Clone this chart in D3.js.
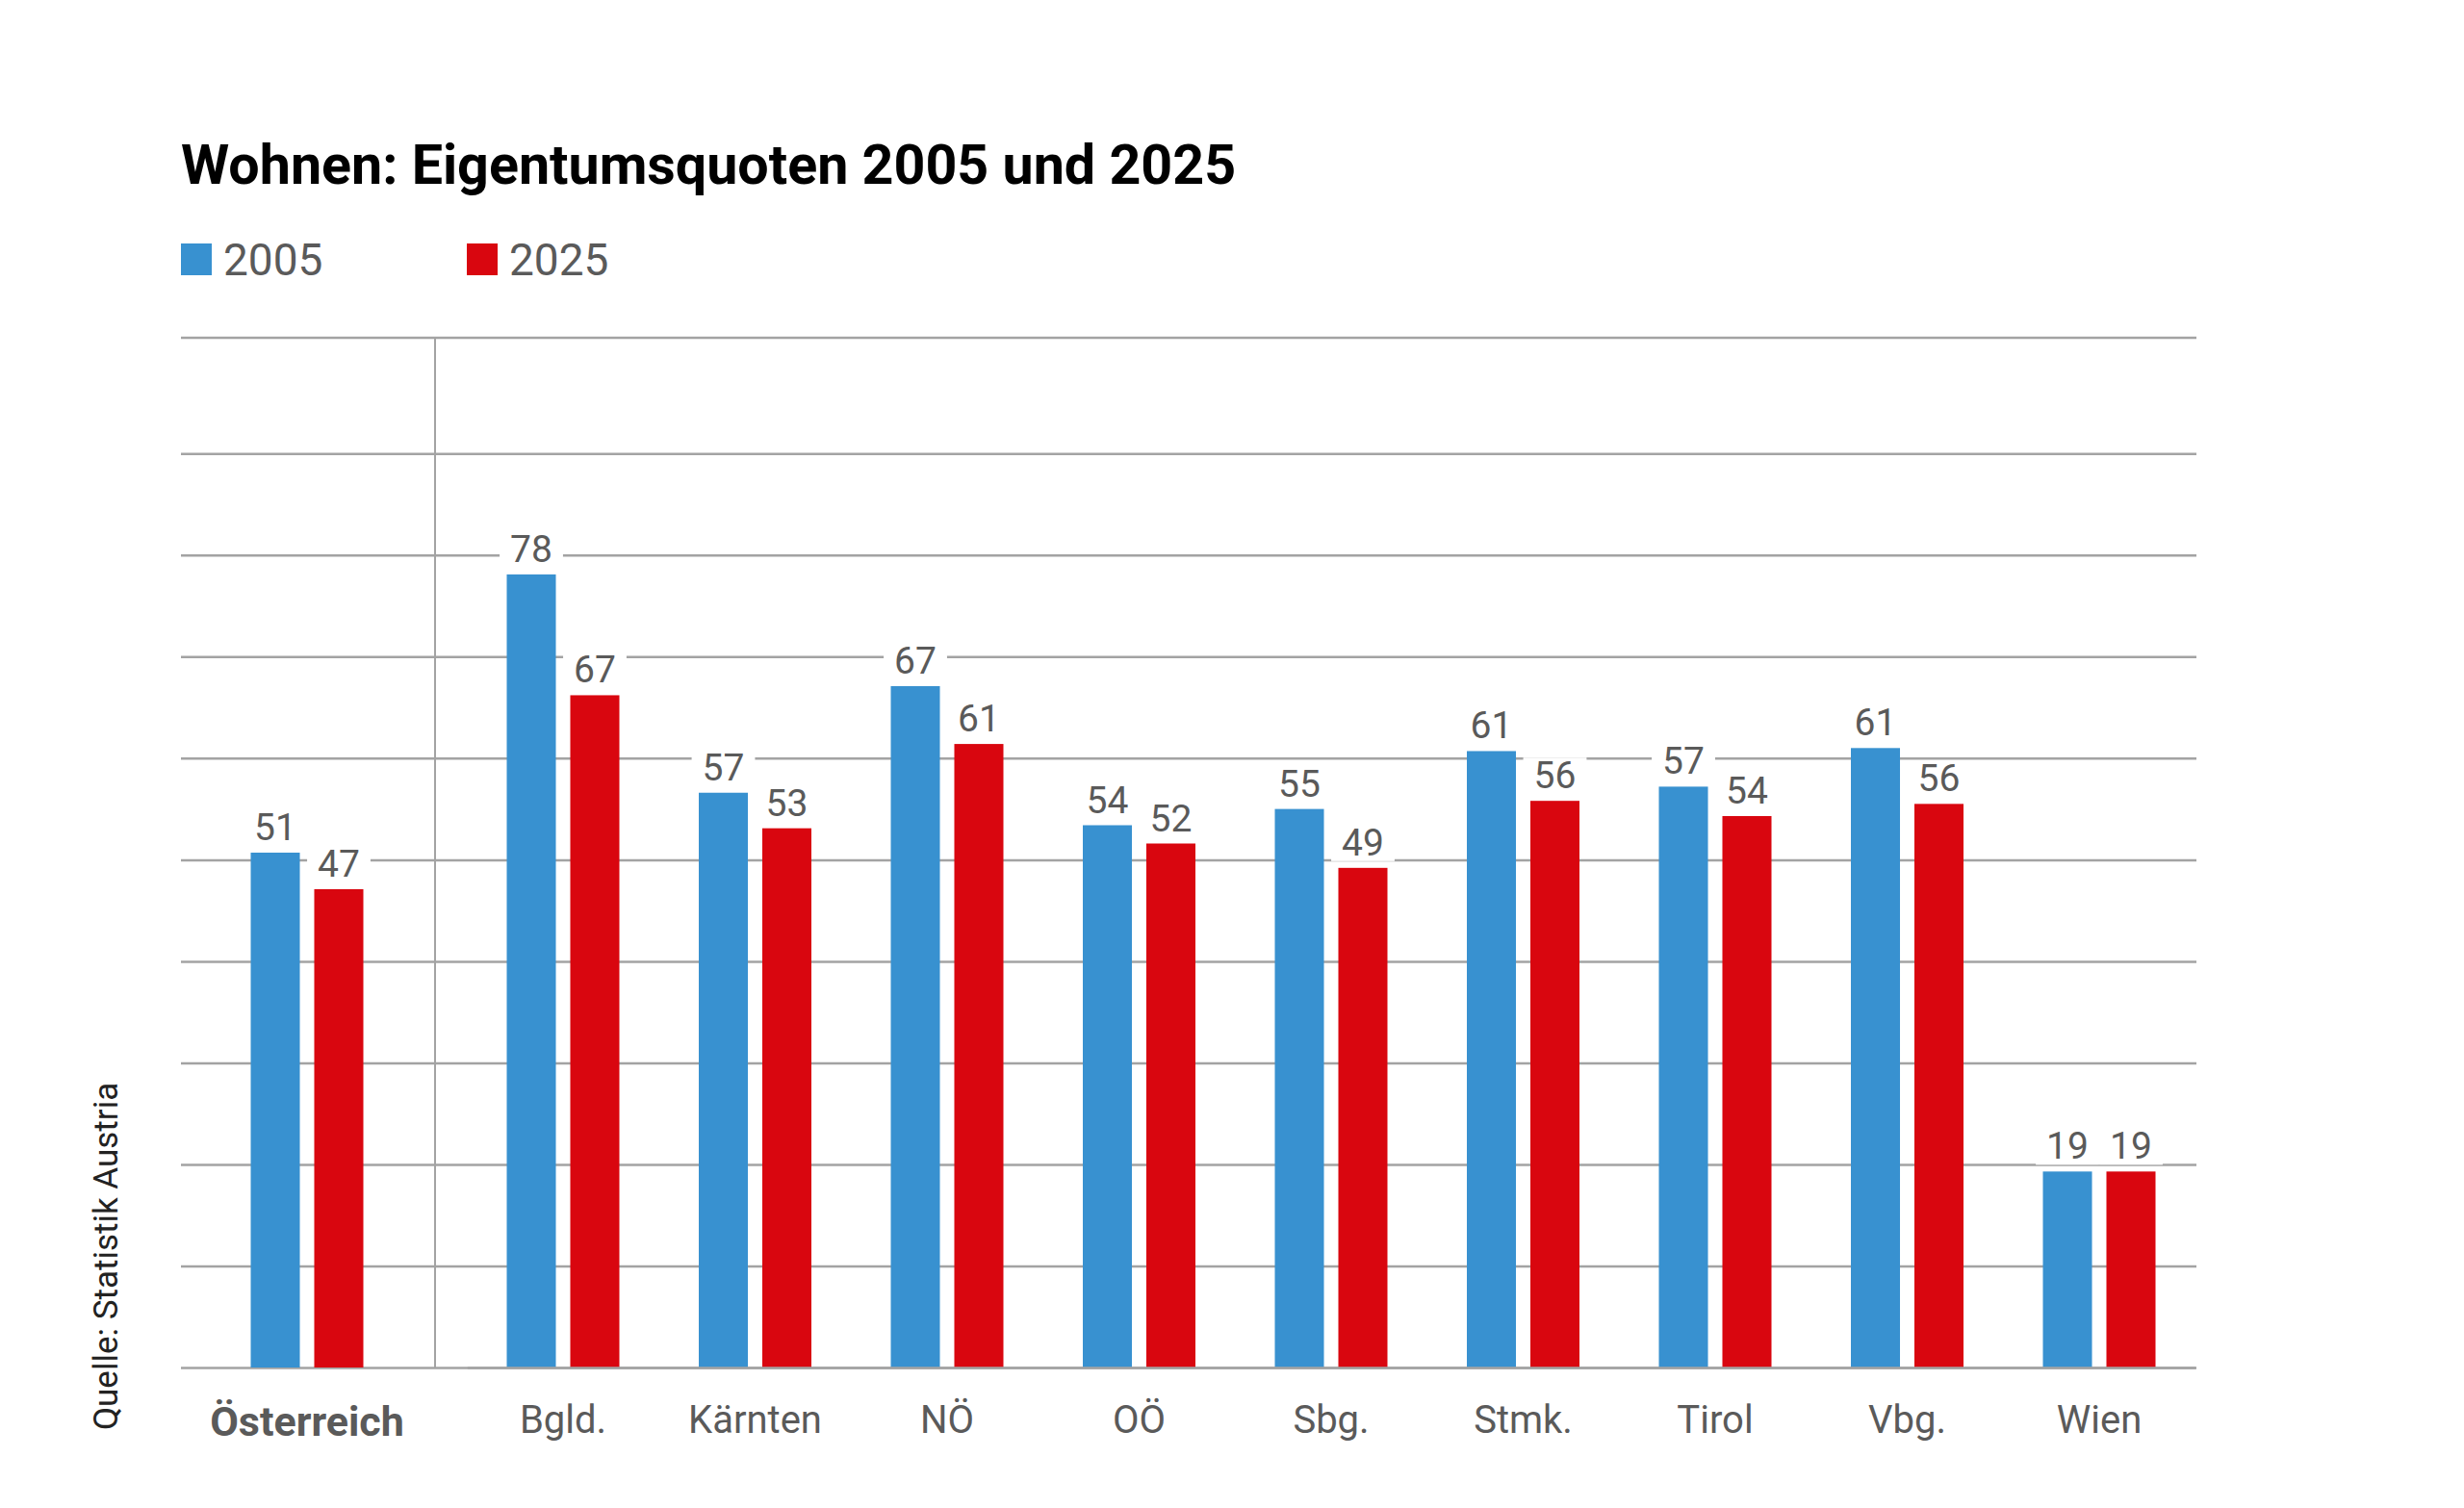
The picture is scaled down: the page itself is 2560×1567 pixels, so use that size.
<!DOCTYPE html>
<html>
<head>
<meta charset="utf-8">
<script src="https://cdn.jsdelivr.net/npm/d3@7"></script>
<style>
  body { margin: 0; background: #fff; }
  .chart text { font-family: Roboto, "Noto Sans", sans-serif; }
</style>
</head>
<body>
<div class="chart"></div>
<script>
// data
var total = "Österreich";
var laender = ["Bgld.", "Kärnten", "NÖ", "OÖ", "Sbg.", "Stmk.", "Tirol", "Vbg.", "Wien"];
var regions = [total].concat(laender);
var years = ["2005", "2025"];

// bar heights (estimated) and the printed labels
var values2005 = [50.7, 78.1, 56.6, 67.1, 53.4, 55.0, 60.7, 57.2, 61.0, 19.3];
var values2025 = [47.1, 66.2, 53.1, 61.4, 51.6, 49.2, 55.8, 54.3, 55.5, 19.3];
var labels2005 = [51, 78, 57, 67, 54, 55, 61, 57, 61, 19];
var labels2025 = [47, 67, 53, 61, 52, 49, 56, 54, 56, 19];
var gridTicks = [0, 10, 20, 30, 40, 50, 60, 70, 80, 90];
var yMax = 101.4;

var colors = { "2005": "#3891d0", "2025": "#d9060f" };

// graph set up
var svgWidth = 2560;
var svgHeight = 1567;
var margin = { top: 351, right: 278, bottom: 146, left: 188 };
var width = svgWidth - margin.left - margin.right;
var height = svgHeight - margin.top - margin.bottom;

var svg = d3.select(".chart")
  .append("svg")
  .attr("width", svgWidth)
  .attr("height", svgHeight);

var chartGroup = svg.append("g")
  .attr("transform", `translate(${margin.left}, ${margin.top})`);

// scales
var yScale = d3.scaleLinear().domain([0, yMax]).range([height, 0]);

var step = 199.5;
var sepX = 264;                 // separator between Österreich and the Länder
var xLand = d3.scaleBand()
  .domain(laender)
  .range([sepX + 133 - step / 2, sepX + 133 - step / 2 + step * laender.length]);
var xTotal = d3.scaleBand()
  .domain([total])
  .range([sepX - 133 - step / 2, sepX - 133 + step / 2]);

function center(name) {
  return name === total ? xTotal(name) + xTotal.bandwidth() / 2
                        : xLand(name) + xLand.bandwidth() / 2;
}

var groupWidth = 117;
var xInner = d3.scaleBand()
  .domain(years)
  .range([-groupWidth / 2, groupWidth / 2])
  .paddingInner(0.227);

// grid lines
var grid = chartGroup.append("g")
  .attr("class", "grid")
  .call(d3.axisLeft(yScale).tickValues(gridTicks).tickSize(-width).tickFormat(""));
grid.select(".domain").remove();
grid.selectAll("line").attr("stroke", "#a3a3a3").attr("stroke-width", 2.5);

// top frame line
chartGroup.append("line")
  .attr("x1", 0).attr("x2", width)
  .attr("y1", yScale(yMax)).attr("y2", yScale(yMax))
  .attr("stroke", "#a3a3a3").attr("stroke-width", 2.5);

// separator
chartGroup.append("line")
  .attr("x1", sepX).attr("x2", sepX)
  .attr("y1", yScale(yMax)).attr("y2", yScale(0))
  .attr("stroke", "#a3a3a3").attr("stroke-width", 2);

// build rows
var rows = regions.map(function(r, i) {
  return {
    region: r,
    bars: [
      { year: "2005", value: values2005[i], label: labels2005[i] },
      { year: "2025", value: values2025[i], label: labels2025[i] }
    ]
  };
});

var groups = chartGroup.selectAll(".group")
  .data(rows)
  .enter()
  .append("g")
  .attr("class", "group")
  .attr("transform", d => `translate(${center(d.region)}, 0)`);

groups.selectAll("rect.bar")
  .data(d => d.bars)
  .enter()
  .append("rect")
  .attr("class", "bar")
  .attr("x", d => xInner(d.year))
  .attr("width", xInner.bandwidth())
  .attr("y", d => yScale(d.value))
  .attr("height", d => yScale(0) - yScale(d.value))
  .attr("fill", d => colors[d.year]);

// value labels with white knock-out behind them
var labelGroups = groups.selectAll("g.lab")
  .data(d => d.bars)
  .enter()
  .append("g")
  .attr("class", "lab");

var labelTexts = labelGroups.append("text")
  .attr("x", d => xInner(d.year) + xInner.bandwidth() / 2)
  .attr("y", d => yScale(d.value) - 13)
  .attr("text-anchor", "middle")
  .attr("font-size", "39px")
  .attr("fill", "#5a5a5a")
  .text(d => d.label);

labelTexts.each(function() {
  var bb = this.getBBox();
  d3.select(this.parentNode).insert("rect", "text")
    .attr("x", bb.x - 11)
    .attr("y", bb.y + 4)
    .attr("width", bb.width + 22)
    .attr("height", bb.height - 8)
    .attr("fill", "#fff");
});

// category labels
var xAxisL = chartGroup.append("g")
  .attr("transform", `translate(0, ${height})`)
  .call(d3.axisBottom(xLand).tickSize(0).tickPadding(40));
var xAxisT = chartGroup.append("g")
  .attr("transform", `translate(0, ${height})`)
  .call(d3.axisBottom(xTotal).tickSize(0).tickPadding(40));
[xAxisL, xAxisT].forEach(function(ax) {
  ax.select(".domain").attr("stroke", "#a3a3a3").attr("stroke-width", 2.5);
  ax.selectAll("text")
    .attr("font-size", "40px")
    .attr("fill", "#5a5a5a")
    .attr("font-family", "Roboto, sans-serif");
});
xAxisT.select(".domain").remove();
xAxisT.selectAll("text").attr("font-weight", "700").attr("font-size", "43px");

// title
var title = svg.append("text")
  .attr("x", 188)
  .attr("y", 191)
  .attr("font-size", "57px")
  .attr("font-weight", "700")
  .attr("fill", "#000")
  .text("Wohnen: Eigentumsquoten 2005 und 2025");
var tw = title.node().getComputedTextLength();
title.attr("font-size", (57 * 1096 / tw).toFixed(1) + "px");

// legend
var legendX = [188, 485];
var legend = svg.selectAll(".legend")
  .data(years)
  .enter()
  .append("g")
  .attr("class", "legend")
  .attr("transform", (d, i) => `translate(${legendX[i]}, 253)`);
legend.append("rect")
  .attr("width", 32).attr("height", 33)
  .attr("fill", d => colors[d]);
legend.append("text")
  .attr("x", 44).attr("y", 33)
  .attr("font-size", "46px")
  .attr("fill", "#5a5a5a")
  .text(d => d);

// source
svg.append("text")
  .attr("transform", "translate(122, 1486) rotate(-90)")
  .attr("font-size", "35px")
  .attr("font-family", "'Liberation Sans', Arial, sans-serif")
  .attr("fill", "#222")
  .text("Quelle: Statistik Austria");
</script>
</body>
</html>
